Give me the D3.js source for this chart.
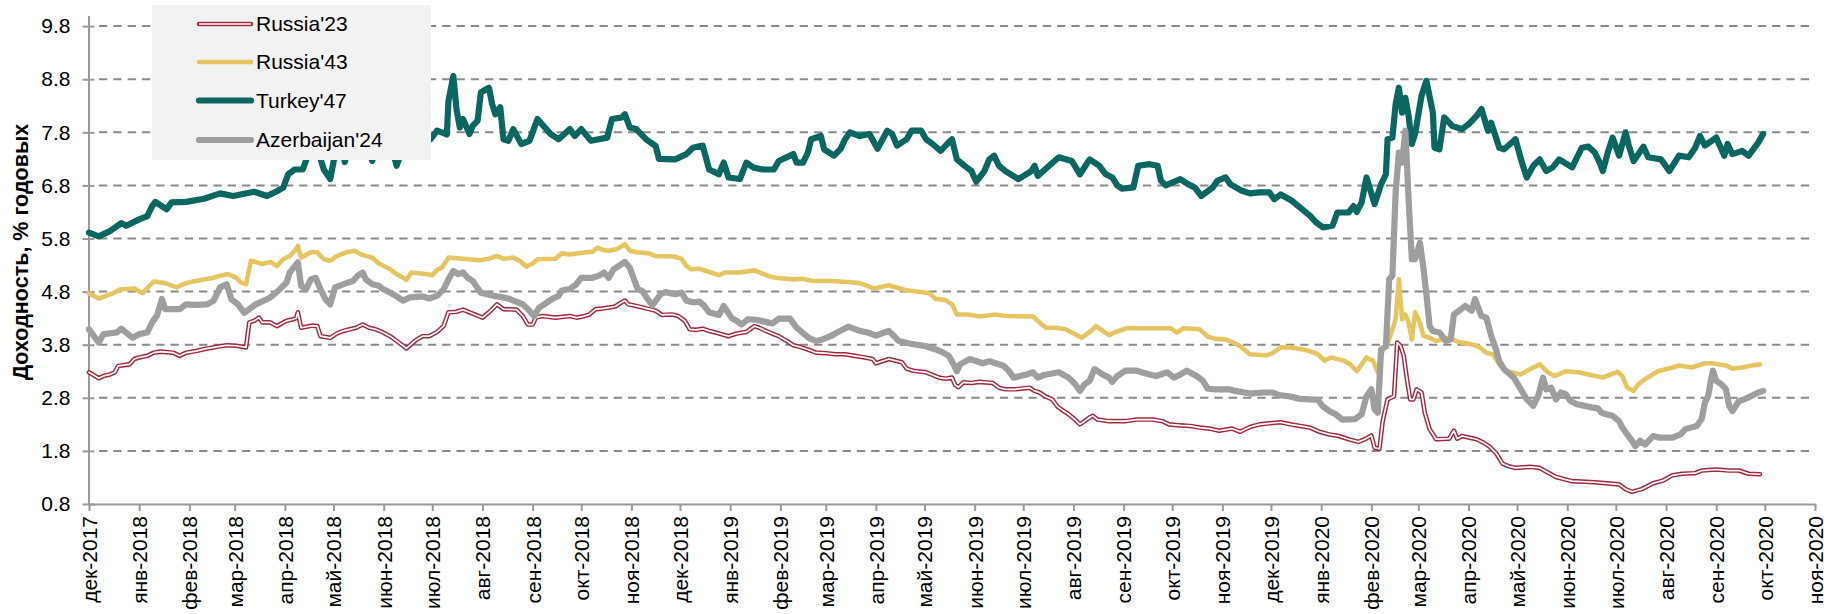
<!DOCTYPE html>
<html>
<head>
<meta charset="utf-8">
<script src="https://cdn.jsdelivr.net/npm/d3@7"></script>
<style>
  html, body { margin: 0; padding: 0; background: #fff; }
  svg { display: block; font-family: "Liberation Sans", Arial, sans-serif; }
</style>
</head>
<body>
<svg id="chart" width="1832" height="614"></svg>
<script>
// month names for the axis labels
const monthNames = ["янв","фев","мар","апр","май","июн","июл","авг","сен","окт","ноя","дек"];
const yTicks = [0.8, 1.8, 2.8, 3.8, 4.8, 5.8, 6.8, 7.8, 8.8, 9.8];

// Russia'23 yields
const russia23 = [
  ["2017-12-01",3.28],["2017-12-07",3.17],["2017-12-10",3.21],["2017-12-14",3.24],["2017-12-17",3.28],
  ["2017-12-19",3.40],["2017-12-26",3.43],["2017-12-29",3.53],["2018-01-01",3.56],["2018-01-06",3.59],
  ["2018-01-10",3.65],["2018-01-14",3.67],["2018-01-22",3.65],["2018-01-26",3.59],["2018-01-30",3.65],
  ["2018-02-05",3.68],["2018-02-12",3.73],["2018-02-18",3.76],["2018-02-24",3.79],["2018-03-02",3.78],
  ["2018-03-08",3.75],["2018-03-10",4.22],["2018-03-13",4.25],["2018-03-16",4.31],["2018-03-18",4.22],
  ["2018-03-23",4.22],["2018-03-27",4.15],["2018-04-02",4.25],["2018-04-06",4.28],["2018-04-08",4.30],
  ["2018-04-09",4.41],["2018-04-11",4.12],["2018-04-18",4.16],["2018-04-21",4.15],["2018-04-23",3.96],
  ["2018-04-29",3.93],["2018-05-03",4.01],["2018-05-07",4.06],["2018-05-11",4.09],["2018-05-15",4.12],
  ["2018-05-19",4.18],["2018-05-23",4.12],["2018-05-27",4.09],["2018-05-31",4.04],["2018-06-05",3.96],
  ["2018-06-09",3.87],["2018-06-13",3.78],["2018-06-15",3.73],["2018-06-18",3.81],["2018-06-21",3.89],
  ["2018-06-25",3.96],["2018-06-29",3.96],["2018-07-04",4.04],["2018-07-08",4.15],["2018-07-11",4.41],
  ["2018-07-16",4.42],["2018-07-20",4.46],["2018-07-24",4.41],["2018-07-28",4.36],["2018-08-01",4.31],
  ["2018-08-05",4.41],["2018-08-10",4.56],["2018-08-14",4.47],["2018-08-22",4.46],["2018-08-26",4.34],
  ["2018-08-29",4.18],["2018-09-01",4.18],["2018-09-03",4.31],["2018-09-07",4.34],["2018-09-15",4.31],
  ["2018-09-24",4.34],["2018-09-28",4.31],["2018-10-02",4.33],["2018-10-06",4.37],["2018-10-10",4.47],
  ["2018-10-14",4.48],["2018-10-22",4.52],["2018-10-26",4.60],["2018-10-28",4.63],["2018-10-30",4.56],
  ["2018-11-04",4.53],["2018-11-12",4.47],["2018-11-16",4.44],["2018-11-20",4.36],["2018-11-26",4.37],
  ["2018-11-30",4.34],["2018-12-04",4.25],["2018-12-07",4.09],["2018-12-11",4.08],["2018-12-15",4.10],
  ["2018-12-19",4.06],["2018-12-23",4.03],["2018-12-31",3.96],["2019-01-05",4.01],["2019-01-11",4.04],
  ["2019-01-16",4.15],["2019-01-19",4.12],["2019-01-23",4.06],["2019-01-27",4.01],["2019-01-31",3.96],
  ["2019-02-05",3.87],["2019-02-09",3.79],["2019-02-13",3.76],["2019-02-18",3.71],["2019-02-23",3.65],
  ["2019-03-01",3.64],["2019-03-07",3.62],["2019-03-13",3.62],["2019-03-19",3.59],["2019-03-25",3.56],
  ["2019-03-30",3.53],["2019-04-01",3.45],["2019-04-09",3.53],["2019-04-17",3.47],["2019-04-20",3.35],
  ["2019-04-24",3.31],["2019-05-02",3.28],["2019-05-06",3.23],["2019-05-10",3.18],["2019-05-14",3.16],
  ["2019-05-18",3.18],["2019-05-20",3.04],["2019-05-22",3.00],["2019-05-25",3.09],["2019-05-30",3.08],
  ["2019-06-04",3.10],["2019-06-12",3.08],["2019-06-16",2.99],["2019-06-20",2.96],["2019-06-26",2.96],
  ["2019-07-05",2.99],["2019-07-08",2.93],["2019-07-11",2.90],["2019-07-15",2.82],["2019-07-19",2.77],
  ["2019-07-22",2.64],["2019-07-26",2.55],["2019-07-29",2.49],["2019-08-02",2.39],["2019-08-05",2.30],
  ["2019-08-08",2.36],["2019-08-11",2.43],["2019-08-13",2.46],["2019-08-16",2.39],["2019-08-23",2.36],
  ["2019-09-02",2.36],["2019-09-09",2.39],["2019-09-19",2.39],["2019-09-25",2.36],["2019-09-29",2.30],
  ["2019-10-06",2.28],["2019-10-12",2.27],["2019-10-18",2.24],["2019-10-24",2.22],["2019-10-30",2.18],
  ["2019-11-07",2.22],["2019-11-12",2.16],["2019-11-18",2.25],["2019-11-24",2.30],["2019-11-30",2.32],
  ["2019-12-07",2.34],["2019-12-13",2.30],["2019-12-19",2.27],["2019-12-25",2.24],["2019-12-31",2.16],
  ["2020-01-06",2.11],["2020-01-12",2.08],["2020-01-18",2.02],["2020-01-24",1.97],["2020-01-28",2.02],
  ["2020-02-01",2.09],["2020-02-03",1.86],["2020-02-06",1.84],["2020-02-08",2.36],["2020-02-11",2.77],
  ["2020-02-15",2.83],["2020-02-17",3.84],["2020-02-19",3.78],["2020-02-21",3.59],["2020-02-23",3.15],
  ["2020-02-25",2.77],["2020-02-27",2.77],["2020-02-29",2.96],["2020-03-03",2.90],["2020-03-05",2.52],
  ["2020-03-08",2.21],["2020-03-12",2.02],["2020-03-20",2.03],["2020-03-23",2.18],["2020-03-25",2.03],
  ["2020-03-28",2.08],["2020-04-06",2.02],["2020-04-10",1.96],["2020-04-14",1.88],["2020-04-18",1.76],
  ["2020-04-22",1.56],["2020-04-26",1.51],["2020-04-30",1.48],["2020-05-09",1.50],["2020-05-15",1.48],
  ["2020-05-25",1.31],["2020-05-31",1.26],["2020-06-04",1.23],["2020-06-18",1.21],["2020-07-03",1.17],
  ["2020-07-07",1.08],["2020-07-11",1.03],["2020-07-17",1.08],["2020-07-24",1.19],["2020-07-30",1.24],
  ["2020-08-05",1.34],["2020-08-11",1.37],["2020-08-19",1.38],["2020-08-23",1.43],["2020-09-01",1.45],
  ["2020-09-09",1.43],["2020-09-15",1.43],["2020-09-21",1.37],["2020-09-28",1.36]
];

// Russia'43 yields
const russia43 = [
  ["2017-12-01",4.77],["2017-12-07",4.67],["2017-12-16",4.77],["2017-12-20",4.84],["2017-12-29",4.86],
  ["2018-01-03",4.77],["2018-01-10",4.99],["2018-01-17",4.96],["2018-01-24",4.88],["2018-01-30",4.96],
  ["2018-02-05",5.00],["2018-02-16",5.06],["2018-02-20",5.10],["2018-02-25",5.13],["2018-03-02",5.06],
  ["2018-03-05",4.97],["2018-03-08",4.94],["2018-03-11",5.38],["2018-03-18",5.32],["2018-03-23",5.36],
  ["2018-03-27",5.28],["2018-03-31",5.41],["2018-04-04",5.47],["2018-04-07",5.57],["2018-04-09",5.66],
  ["2018-04-11",5.44],["2018-04-17",5.54],["2018-04-21",5.54],["2018-04-25",5.41],["2018-04-29",5.38],
  ["2018-05-03",5.47],["2018-05-09",5.54],["2018-05-14",5.57],["2018-05-18",5.50],["2018-05-25",5.44],
  ["2018-05-29",5.33],["2018-06-05",5.22],["2018-06-09",5.13],["2018-06-13",5.06],["2018-06-15",5.02],
  ["2018-06-18",5.16],["2018-06-27",5.13],["2018-07-01",5.11],["2018-07-04",5.21],["2018-07-07",5.25],
  ["2018-07-11",5.44],["2018-07-20",5.42],["2018-07-30",5.39],["2018-08-05",5.42],["2018-08-10",5.47],
  ["2018-08-14",5.42],["2018-08-20",5.44],["2018-08-24",5.38],["2018-08-28",5.27],["2018-09-01",5.33],
  ["2018-09-04",5.41],["2018-09-15",5.42],["2018-09-19",5.52],["2018-09-24",5.50],["2018-10-04",5.54],
  ["2018-10-08",5.55],["2018-10-11",5.63],["2018-10-14",5.59],["2018-10-18",5.57],["2018-10-23",5.60],
  ["2018-10-28",5.69],["2018-10-31",5.57],["2018-11-04",5.54],["2018-11-12",5.52],["2018-11-16",5.47],
  ["2018-11-27",5.46],["2018-12-02",5.42],["2018-12-05",5.28],["2018-12-08",5.22],["2018-12-13",5.23],
  ["2018-12-19",5.17],["2018-12-25",5.11],["2018-12-29",5.16],["2019-01-07",5.16],["2019-01-16",5.20],
  ["2019-01-25",5.09],["2019-01-29",5.06],["2019-02-09",5.03],["2019-02-15",5.04],["2019-02-21",5.00],
  ["2019-03-04",5.00],["2019-03-15",4.98],["2019-03-22",4.96],["2019-03-31",4.86],["2019-04-09",4.92],
  ["2019-04-19",4.83],["2019-04-24",4.81],["2019-05-04",4.77],["2019-05-08",4.66],["2019-05-14",4.64],
  ["2019-05-18",4.56],["2019-05-21",4.37],["2019-05-28",4.37],["2019-06-04",4.33],["2019-06-14",4.37],
  ["2019-06-20",4.34],["2019-07-07",4.33],["2019-07-11",4.22],["2019-07-15",4.12],["2019-07-21",4.12],
  ["2019-07-27",4.09],["2019-07-31",4.03],["2019-08-06",3.93],["2019-08-12",4.06],["2019-08-15",4.15],
  ["2019-08-23",3.98],["2019-08-27",4.04],["2019-09-03",4.11],["2019-09-13",4.11],["2019-09-21",4.11],
  ["2019-09-30",4.11],["2019-10-04",4.03],["2019-10-08",4.11],["2019-10-18",4.09],["2019-10-23",3.95],
  ["2019-10-28",3.91],["2019-11-03",3.90],["2019-11-07",3.85],["2019-11-12",3.77],["2019-11-18",3.62],
  ["2019-11-28",3.60],["2019-12-02",3.64],["2019-12-07",3.75],["2019-12-13",3.75],["2019-12-19",3.72],
  ["2019-12-25",3.68],["2019-12-30",3.62],["2020-01-03",3.50],["2020-01-07",3.56],["2020-01-15",3.50],
  ["2020-01-19",3.43],["2020-01-23",3.30],["2020-01-29",3.56],["2020-02-02",3.50],["2020-02-05",3.28],
  ["2020-02-08",3.71],["2020-02-11",3.81],["2020-02-14",4.09],["2020-02-16",4.28],["2020-02-18",5.03],
  ["2020-02-20",4.28],["2020-02-22",4.37],["2020-02-24",4.22],["2020-02-26",3.90],["2020-02-28",4.41],
  ["2020-03-02",4.22],["2020-03-04",3.97],["2020-03-08",3.93],["2020-03-12",3.87],["2020-03-20",3.93],
  ["2020-03-26",3.85],["2020-04-04",3.80],["2020-04-08",3.75],["2020-04-12",3.65],["2020-04-16",3.62],
  ["2020-04-20",3.43],["2020-04-24",3.30],["2020-04-28",3.28],["2020-05-03",3.24],["2020-05-11",3.37],
  ["2020-05-15",3.43],["2020-05-20",3.28],["2020-05-24",3.21],["2020-05-31",3.30],["2020-06-08",3.28],
  ["2020-06-14",3.24],["2020-06-23",3.18],["2020-07-02",3.29],["2020-07-05",3.21],["2020-07-08",2.99],
  ["2020-07-12",2.93],["2020-07-15",3.06],["2020-07-19",3.15],["2020-07-27",3.30],["2020-08-05",3.37],
  ["2020-08-09",3.41],["2020-08-17",3.37],["2020-08-25",3.45],["2020-08-29",3.45],["2020-09-07",3.41],
  ["2020-09-11",3.35],["2020-09-17",3.37],["2020-09-23",3.41],["2020-09-28",3.43]
];

// Turkey'47 yields (values behind the legend estimated)
const turkey47 = [
  ["2017-12-01",5.91],["2017-12-07",5.84],["2017-12-14",5.94],["2017-12-21",6.09],["2017-12-24",6.04],
  ["2018-01-01",6.16],["2018-01-06",6.22],["2018-01-09",6.41],["2018-01-11",6.49],["2018-01-18",6.35],
  ["2018-01-21",6.48],["2018-01-30",6.49],["2018-02-10",6.55],["2018-02-20",6.65],["2018-02-28",6.60],
  ["2018-03-13",6.68],["2018-03-21",6.60],["2018-03-27",6.69],["2018-03-31",6.76],["2018-04-03",7.01],
  ["2018-04-07",7.10],["2018-04-12",7.10],["2018-04-15",7.35],["2018-04-18",7.50],["2018-04-22",7.40],
  ["2018-04-25",7.10],["2018-04-29",6.92],["2018-05-02",7.40],["2018-05-05",7.70],["2018-05-08",7.24],
  ["2018-05-11",7.60],["2018-05-17",7.80],["2018-05-25",7.26],["2018-05-28",7.70],["2018-06-02",7.90],
  ["2018-06-06",7.50],["2018-06-09",7.17],["2018-06-14",7.60],["2018-06-20",7.80],["2018-06-26",7.75],
  ["2018-06-30",7.67],["2018-07-04",7.83],["2018-07-10",7.76],["2018-07-11",8.39],["2018-07-14",8.86],
  ["2018-07-16",8.23],["2018-07-18",7.89],["2018-07-20",8.05],["2018-07-24",7.77],["2018-07-26",7.92],
  ["2018-07-29",8.02],["2018-07-31",8.55],["2018-08-05",8.64],["2018-08-07",8.33],["2018-08-09",8.14],
  ["2018-08-12",8.27],["2018-08-14",7.67],["2018-08-17",7.64],["2018-08-20",7.86],["2018-08-25",7.58],
  ["2018-08-30",7.64],["2018-09-04",8.05],["2018-09-12",7.77],["2018-09-17",7.67],["2018-09-24",7.86],
  ["2018-09-27",7.73],["2018-10-01",7.86],["2018-10-07",7.64],["2018-10-17",7.70],["2018-10-20",8.05],
  ["2018-10-26",8.08],["2018-10-28",8.14],["2018-10-31",7.89],["2018-11-04",7.86],["2018-11-10",7.67],
  ["2018-11-16",7.54],["2018-11-18",7.30],["2018-11-28",7.29],["2018-12-05",7.39],["2018-12-09",7.51],
  ["2018-12-15",7.55],["2018-12-19",7.10],["2018-12-25",7.01],["2018-12-28",7.23],["2018-12-31",6.95],
  ["2019-01-07",6.92],["2019-01-11",7.23],["2019-01-15",7.14],["2019-01-21",7.10],["2019-01-28",7.10],
  ["2019-01-31",7.26],["2019-02-09",7.39],["2019-02-11",7.23],["2019-02-15",7.23],["2019-02-18",7.42],
  ["2019-02-20",7.67],["2019-02-26",7.73],["2019-02-28",7.48],["2019-03-06",7.36],["2019-03-10",7.48],
  ["2019-03-13",7.67],["2019-03-16",7.80],["2019-03-22",7.73],["2019-03-28",7.77],["2019-04-02",7.49],
  ["2019-04-08",7.83],["2019-04-11",7.77],["2019-04-14",7.55],["2019-04-20",7.67],["2019-04-23",7.83],
  ["2019-04-29",7.83],["2019-05-02",7.67],["2019-05-06",7.58],["2019-05-11",7.45],["2019-05-15",7.58],
  ["2019-05-18",7.67],["2019-05-21",7.29],["2019-05-27",7.14],["2019-05-30",7.07],["2019-06-02",6.87],
  ["2019-06-07",7.07],["2019-06-10",7.29],["2019-06-13",7.36],["2019-06-16",7.17],["2019-06-20",7.07],
  ["2019-06-28",6.92],["2019-07-06",7.07],["2019-07-08",7.17],["2019-07-10",6.98],["2019-07-17",7.17],
  ["2019-07-23",7.33],["2019-07-31",7.26],["2019-08-05",7.01],["2019-08-11",7.29],["2019-08-17",7.17],
  ["2019-08-21",7.01],["2019-08-25",6.95],["2019-08-28",6.80],["2019-08-31",6.74],["2019-09-07",6.76],
  ["2019-09-10",7.17],["2019-09-17",7.20],["2019-09-22",7.17],["2019-09-24",6.89],["2019-09-27",6.80],
  ["2019-10-06",6.92],["2019-10-11",6.82],["2019-10-15",6.76],["2019-10-19",6.60],["2019-10-26",6.76],
  ["2019-10-29",6.89],["2019-11-03",6.95],["2019-11-06",6.82],["2019-11-13",6.70],["2019-11-18",6.65],
  ["2019-11-24",6.67],["2019-11-30",6.67],["2019-12-03",6.54],["2019-12-07",6.63],["2019-12-14",6.51],
  ["2019-12-19",6.38],["2019-12-25",6.23],["2019-12-29",6.10],["2020-01-02",6.01],["2020-01-08",6.04],
  ["2020-01-11",6.29],["2020-01-18",6.29],["2020-01-21",6.41],["2020-01-23",6.30],["2020-01-26",6.48],
  ["2020-01-29",6.95],["2020-02-03",6.45],["2020-02-07",6.82],["2020-02-10",7.01],["2020-02-11",7.67],
  ["2020-02-14",7.70],["2020-02-16",8.33],["2020-02-18",8.64],["2020-02-20",8.17],["2020-02-22",8.45],
  ["2020-02-24",8.11],["2020-02-26",7.58],["2020-02-28",7.77],["2020-03-03",8.49],["2020-03-06",8.77],
  ["2020-03-10",8.17],["2020-03-11",7.51],["2020-03-14",7.48],["2020-03-17",8.08],["2020-03-22",7.92],
  ["2020-03-28",7.86],["2020-04-01",7.95],["2020-04-06",8.11],["2020-04-09",8.24],["2020-04-13",7.83],
  ["2020-04-15",7.98],["2020-04-20",7.51],["2020-04-23",7.48],["2020-04-30",7.67],["2020-05-04",7.23],
  ["2020-05-07",6.95],["2020-05-11",7.17],["2020-05-15",7.29],["2020-05-19",7.07],["2020-05-23",7.14],
  ["2020-05-27",7.29],["2020-06-04",7.14],["2020-06-10",7.51],["2020-06-14",7.53],["2020-06-18",7.42],
  ["2020-06-21",7.23],["2020-06-23",7.07],["2020-06-26",7.42],["2020-06-29",7.70],["2020-07-03",7.36],
  ["2020-07-07",7.80],["2020-07-09",7.55],["2020-07-12",7.26],["2020-07-18",7.53],["2020-07-21",7.33],
  ["2020-07-29",7.29],["2020-08-03",7.07],["2020-08-09",7.36],["2020-08-15",7.33],["2020-08-19",7.51],
  ["2020-08-22",7.73],["2020-08-25",7.55],["2020-09-01",7.70],["2020-09-06",7.36],["2020-09-08",7.58],
  ["2020-09-11",7.39],["2020-09-17",7.45],["2020-09-21",7.36],["2020-09-27",7.61],["2020-09-30",7.77]
];

// Azerbaijan'24 yields
const azerbaijan24 = [
  ["2017-12-01",4.09],["2017-12-07",3.84],["2017-12-10",4.00],["2017-12-18",4.03],["2017-12-21",4.10],
  ["2017-12-28",3.93],["2018-01-01",4.00],["2018-01-06",4.03],["2018-01-09",4.22],["2018-01-12",4.35],
  ["2018-01-15",4.66],["2018-01-17",4.47],["2018-01-26",4.47],["2018-01-30",4.56],["2018-02-05",4.55],
  ["2018-02-12",4.56],["2018-02-16",4.63],["2018-02-20",4.88],["2018-02-24",4.94],["2018-02-27",4.65],
  ["2018-03-03",4.56],["2018-03-07",4.40],["2018-03-14",4.56],["2018-03-23",4.69],["2018-03-27",4.79],
  ["2018-04-02",4.97],["2018-04-04",5.16],["2018-04-09",5.35],["2018-04-11",4.91],["2018-04-14",4.84],
  ["2018-04-17",5.03],["2018-04-20",5.06],["2018-04-23",4.84],["2018-04-26",4.66],["2018-04-29",4.56],
  ["2018-05-02",4.88],["2018-05-09",4.96],["2018-05-13",5.00],["2018-05-16",5.10],["2018-05-19",5.16],
  ["2018-05-21",5.03],["2018-05-25",4.94],["2018-05-29",4.91],["2018-05-31",4.86],["2018-06-05",4.78],
  ["2018-06-09",4.71],["2018-06-13",4.63],["2018-06-17",4.69],["2018-06-25",4.71],["2018-06-29",4.67],
  ["2018-07-04",4.72],["2018-07-08",4.84],["2018-07-11",5.03],["2018-07-14",5.19],["2018-07-17",5.13],
  ["2018-07-20",5.16],["2018-07-23",5.06],["2018-07-26",5.00],["2018-07-31",4.78],["2018-08-04",4.75],
  ["2018-08-08",4.72],["2018-08-14",4.69],["2018-08-18",4.66],["2018-08-26",4.56],["2018-08-30",4.44],
  ["2018-09-02",4.34],["2018-09-05",4.50],["2018-09-13",4.66],["2018-09-17",4.72],["2018-09-19",4.82],
  ["2018-09-24",4.85],["2018-09-28",4.94],["2018-10-01",5.06],["2018-10-08",5.06],["2018-10-12",5.10],
  ["2018-10-15",5.16],["2018-10-18",5.06],["2018-10-21",5.22],["2018-10-28",5.36],["2018-10-31",5.25],
  ["2018-11-03",5.00],["2018-11-05",4.84],["2018-11-08",4.81],["2018-11-11",4.66],["2018-11-14",4.54],
  ["2018-11-19",4.75],["2018-11-22",4.79],["2018-11-28",4.75],["2018-12-02",4.78],["2018-12-05",4.63],
  ["2018-12-09",4.60],["2018-12-13",4.61],["2018-12-16",4.53],["2018-12-19",4.41],["2018-12-25",4.36],
  ["2018-12-28",4.53],["2019-01-02",4.30],["2019-01-05",4.25],["2019-01-08",4.18],["2019-01-12",4.28],
  ["2019-01-17",4.27],["2019-01-23",4.23],["2019-01-27",4.20],["2019-01-31",4.29],["2019-02-07",4.29],
  ["2019-02-11",4.12],["2019-02-15",4.02],["2019-02-19",3.92],["2019-02-23",3.87],["2019-02-27",3.90],
  ["2019-03-04",3.96],["2019-03-08",4.03],["2019-03-15",4.14],["2019-03-22",4.06],["2019-03-27",4.03],
  ["2019-04-01",3.97],["2019-04-09",4.06],["2019-04-12",3.97],["2019-04-15",3.87],["2019-04-24",3.81],
  ["2019-05-02",3.77],["2019-05-08",3.71],["2019-05-12",3.66],["2019-05-16",3.59],["2019-05-19",3.43],
  ["2019-05-21",3.30],["2019-05-23",3.43],["2019-05-29",3.53],["2019-06-06",3.45],["2019-06-10",3.49],
  ["2019-06-14",3.45],["2019-06-19",3.40],["2019-06-22",3.31],["2019-06-25",3.18],["2019-07-03",3.24],
  ["2019-07-07",3.28],["2019-07-10",3.18],["2019-07-14",3.23],["2019-07-23",3.28],["2019-07-29",3.18],
  ["2019-08-02",3.06],["2019-08-05",2.93],["2019-08-08",3.06],["2019-08-11",3.12],["2019-08-14",3.34],
  ["2019-08-19",3.24],["2019-08-23",3.18],["2019-08-25",3.10],["2019-08-28",3.21],["2019-09-02",3.31],
  ["2019-09-09",3.31],["2019-09-17",3.24],["2019-09-21",3.21],["2019-09-28",3.28],["2019-10-02",3.18],
  ["2019-10-06",3.24],["2019-10-10",3.31],["2019-10-16",3.21],["2019-10-20",3.12],["2019-10-23",2.97],
  ["2019-10-28",2.96],["2019-11-05",2.96],["2019-11-09",2.93],["2019-11-18",2.88],["2019-11-26",2.90],
  ["2019-12-02",2.90],["2019-12-06",2.85],["2019-12-12",2.83],["2019-12-19",2.78],["2019-12-25",2.77],
  ["2019-12-30",2.76],["2020-01-02",2.64],["2020-01-06",2.55],["2020-01-10",2.49],["2020-01-14",2.39],
  ["2020-01-22",2.40],["2020-01-26",2.49],["2020-01-29",2.83],["2020-02-01",2.96],["2020-02-03",2.58],
  ["2020-02-05",2.52],["2020-02-07",3.71],["2020-02-10",3.77],["2020-02-12",5.03],["2020-02-14",5.10],
  ["2020-02-16",6.67],["2020-02-18",7.42],["2020-02-20",7.23],["2020-02-22",7.83],["2020-02-24",6.54],
  ["2020-02-26",5.41],["2020-02-28",5.41],["2020-03-02",5.72],["2020-03-04",5.28],["2020-03-06",4.75],
  ["2020-03-08",4.15],["2020-03-10",4.06],["2020-03-14",4.03],["2020-03-18",3.87],["2020-03-21",3.90],
  ["2020-03-23",4.37],["2020-03-30",4.53],["2020-04-03",4.44],["2020-04-05",4.66],["2020-04-07",4.50],
  ["2020-04-09",4.34],["2020-04-12",4.31],["2020-04-15",3.97],["2020-04-18",3.71],["2020-04-20",3.49],
  ["2020-04-23",3.34],["2020-04-29",3.18],["2020-05-07",2.77],["2020-05-11",2.65],["2020-05-14",2.83],
  ["2020-05-17",3.18],["2020-05-19",2.96],["2020-05-22",2.99],["2020-05-25",2.77],["2020-05-28",2.90],
  ["2020-05-31",2.87],["2020-06-03",2.74],["2020-06-07",2.68],["2020-06-16",2.62],["2020-06-20",2.60],
  ["2020-06-22",2.52],["2020-06-25",2.49],["2020-06-29",2.46],["2020-07-03",2.36],["2020-07-05",2.24],
  ["2020-07-08",2.11],["2020-07-11",1.99],["2020-07-13",1.89],["2020-07-16",1.99],["2020-07-19",1.92],
  ["2020-07-24",2.08],["2020-07-28",2.05],["2020-08-05",2.05],["2020-08-10",2.11],["2020-08-13",2.21],
  ["2020-08-20",2.27],["2020-08-23",2.40],["2020-08-25",2.71],["2020-08-27",2.83],["2020-08-29",3.18],
  ["2020-08-30",3.31],["2020-09-01",3.12],["2020-09-04",3.06],["2020-09-07",2.96],["2020-09-09",2.65],
  ["2020-09-11",2.55],["2020-09-15",2.74],["2020-09-19",2.78],["2020-09-27",2.90],["2020-09-30",2.93]
];

const seriesNames = ["Russia'23", "Russia'43", "Turkey'47", "Azerbaijan'24"];
const seriesColors = ["#a3283f", "#e5c462", "#0a6661", "#9e9e9e"];
const seriesWidths = [4.6, 4.6, 6.2, 6.2];
const seriesData = [russia23, russia43, turkey47, azerbaijan24];

const parse = d3.timeParse("%Y-%m-%d");
const svg = d3.select("#chart");

const x = d3.scaleTime()
    .domain([new Date(2017, 11, 1), new Date(2020, 10, 1)])
    .range([89, 1815]);
const y = d3.scaleLinear()
    .domain([0.8, 10.0])
    .range([504, 15.5]);

const axisColor = "#999";

// gridlines
svg.append("g").selectAll("line")
    .data(yTicks.slice(1))
    .join("line")
    .attr("x1", 99).attr("x2", 1815)
    .attr("y1", d => y(d)).attr("y2", d => y(d))
    .attr("stroke", "#8a8a8a")
    .attr("stroke-width", 2)
    .attr("stroke-dasharray", "8.3,6");

// y axis
const yAxis = svg.append("g").attr("transform", "translate(88.5,0)")
    .call(d3.axisLeft(y).tickValues(yTicks).tickFormat(d3.format(".1f")).tickSize(6).tickSizeOuter(0));
yAxis.select(".domain").attr("stroke", axisColor).attr("stroke-width", 2);
yAxis.selectAll(".tick line").attr("stroke", axisColor).attr("stroke-width", 2).attr("x2", 6).attr("x1", -6);
yAxis.selectAll(".tick text")
    .attr("x", -18)
    .attr("font-size", 21)
    .attr("font-family", "Liberation Sans, Arial, sans-serif")
    .attr("fill", "#000");

// x axis
const xAxis = svg.append("g").attr("transform", "translate(0,504)")
    .call(d3.axisBottom(x)
        .ticks(d3.timeMonth.every(1))
        .tickFormat(d => monthNames[d.getMonth()] + "-" + d.getFullYear())
        .tickSize(7).tickSizeOuter(0));
xAxis.select(".domain").attr("stroke", axisColor).attr("stroke-width", 2);
xAxis.selectAll(".tick line").attr("stroke", axisColor).attr("stroke-width", 2);
xAxis.selectAll(".tick text")
    .attr("transform", "rotate(-90)")
    .attr("x", -12).attr("y", 0).attr("dy", "0.35em")
    .attr("text-anchor", "end")
    .attr("font-size", 21)
    .attr("font-family", "Liberation Sans, Arial, sans-serif")
    .attr("fill", "#000");

// y title
svg.append("text")
    .attr("transform", "translate(20,252) rotate(-90)")
    .attr("text-anchor", "middle")
    .attr("dy", "0.35em")
    .attr("font-size", 21.5)
    .attr("font-weight", "bold")
    .text("Доходность, % годовых");

// lines
const line = d3.line()
    .x(d => x(parse(d[0])))
    .y(d => y(d[1]));

const lines = svg.append("g")
    .attr("fill", "none")
    .attr("stroke-linejoin", "round")
    .attr("stroke-linecap", "round");

seriesData.forEach((data, i) => {
    lines.append("path")
        .datum(data)
        .attr("d", line)
        .attr("stroke", seriesColors[i])
        .attr("stroke-width", seriesWidths[i]);
    if (i === 0) {
        lines.append("path")
            .datum(data)
            .attr("d", line)
            .attr("stroke", "#fff")
            .attr("stroke-width", 1.7);
    }
});

// legend, drawn over the lines
const legend = svg.append("g");
legend.append("rect")
    .attr("x", 152).attr("y", 5)
    .attr("width", 279).attr("height", 155)
    .attr("fill", "#f2f2f2");

const rowY = [24, 62, 100.5, 140];
seriesNames.forEach((name, i) => {
    const g = legend.append("g").attr("transform", `translate(0,${rowY[i]})`);
    g.append("line")
        .attr("x1", 199).attr("x2", 251)
        .attr("stroke", seriesColors[i])
        .attr("stroke-width", seriesWidths[i])
        .attr("stroke-linecap", "round");
    if (i === 0) {
        g.append("line")
            .attr("x1", 199).attr("x2", 251)
            .attr("stroke", "#fff")
            .attr("stroke-width", 1.7);
    }
    g.append("text")
        .attr("x", 256)
        .attr("dy", "0.35em")
        .attr("font-size", 21)
        .attr("fill", "#000")
        .text(name);
});
</script>
</body>
</html>
